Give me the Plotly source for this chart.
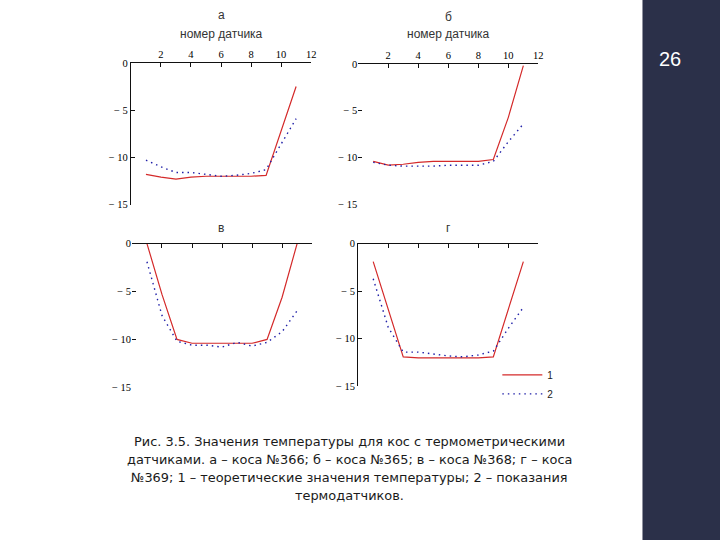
import plotly.graph_objects as go

W, H = 720, 540

sensors = list(range(1, 12))
# panel а (коса №366)
a_theory = [-11.8, -12.1, -12.3, -12.1, -12.0, -12.0, -12.0, -12.0, -11.9, -7.2, -2.5]
a_sensor = [-10.3, -11.0, -11.6, -11.6, -11.8, -12.0, -11.9, -11.7, -11.3, -8.6, -5.9]
# panel б (коса №365)
b_theory = [-10.4, -10.8, -10.7, -10.5, -10.4, -10.4, -10.4, -10.4, -10.2, -5.7, -0.2]
b_sensor = [-10.5, -10.8, -10.9, -10.9, -10.9, -10.8, -10.8, -10.8, -10.4, -8.3, -6.4]
# panel в (коса №368)
c_theory = [0.0, -5.3, -10.0, -10.4, -10.4, -10.4, -10.4, -10.4, -10.0, -5.6, 0.0]
c_sensor = [-1.9, -7.5, -10.2, -10.6, -10.6, -10.8, -10.3, -10.7, -10.3, -9.2, -7.0]
# panel г (коса №369)
d_theory = [-1.9, -6.9, -11.9, -12.0, -12.0, -12.0, -12.0, -12.0, -11.9, -6.9, -1.9]
d_sensor = [-3.7, -8.8, -11.4, -11.4, -11.6, -11.8, -11.9, -11.7, -11.3, -8.9, -6.7]

panel_titles = ["а", "б", "в", "г"]
x_title = "номер датчика"
legend_names = ["1", "2"]
x_ticks = [2, 4, 6, 8, 10, 12]
y_ticks = [0, -5, -10, -15]
y_ticktext = ["0", "− 5", "− 10", "− 15"]

caption_lines = [
    "Рис. 3.5. Значения температуры для кос с термометрическими",
    "датчиками. а – коса №366; б – коса №365; в – коса №368; г – коса",
    "№369; 1 – теоретические значения температуры; 2 – показания",
    "термодатчиков.",
]
page_number = "26"

RED = "#d42a2a"
BLUE = "#2020a8"
SIDEBAR = "#2b3049"


# the photographed page is shown slightly shifted/scaled; map wanted picture px -> figure px
def fx(p):
    return (p - 0.2) / 0.992


def fy(p):
    return (p - 4.1) / 0.981


def px_x(p):
    return fx(p) / W


def px_y(p):
    return 1 - fy(p) / H


# picture-pixel boxes of panels: (x0, x1, ytop, ybottom)
boxes = [
    (131, 311, 62, 204),
    (358, 538, 63, 204),
    (132, 312, 243, 387),
    (358, 538, 243, 386),
]
show_yline = [True, False, False, True]
show_xlabels = [True, True, False, False]

data = [(a_theory, a_sensor), (b_theory, b_sensor), (c_theory, c_sensor), (d_theory, d_sensor)]

fig = go.Figure()
layout = dict(
    width=W, height=H,
    margin=dict(l=0, r=0, t=0, b=0),
    paper_bgcolor="white", plot_bgcolor="white",
    showlegend=True,
    legend=dict(x=px_x(497), y=px_y(360), xanchor="left", yanchor="top",
                bgcolor="rgba(0,0,0,0)", font=dict(family="Liberation Sans", size=10, color="#222"),
                tracegroupgap=0, itemwidth=40),
)

tick_font = dict(family="Liberation Serif", size=10.5, color="#000")

for i, ((th, se), box) in enumerate(zip(data, boxes)):
    n = "" if i == 0 else str(i + 1)
    x0, x1, yt, yb = box
    fig.add_trace(go.Scatter(x=sensors, y=th, mode="lines", name=legend_names[0],
                             line=dict(color=RED, width=1.2), showlegend=(i == 3),
                             xaxis="x" + n, yaxis="y" + n))
    fig.add_trace(go.Scatter(x=sensors, y=se, mode="lines", name=legend_names[1],
                             line=dict(color=BLUE, width=1.4, dash="1.5px,4px"), showlegend=(i == 3),
                             xaxis="x" + n, yaxis="y" + n))
    layout["xaxis" + n] = dict(
        domain=[px_x(x0), px_x(x1)], range=[0, 12], anchor="y" + n, side="top",
        tickvals=x_ticks, showticklabels=show_xlabels[i], ticks="inside", ticklen=4,
        tickcolor="#111", showline=True, linecolor="#111", linewidth=1.2,
        showgrid=False, zeroline=False, tickfont=tick_font,
    )
    layout["yaxis" + n] = dict(
        domain=[px_y(yb), px_y(yt)], range=[-15, 0], anchor="x" + n,
        tickvals=y_ticks, ticktext=y_ticktext, ticks="inside", ticklen=4,
        tickcolor="#111", showline=show_yline[i], linecolor="#111", linewidth=1.2,
        showgrid=False, zeroline=False, tickfont=tick_font,
    )

fig.update_layout(**layout)

title_font = dict(family="Liberation Sans", size=12, color="#333")
title_pos = [(221, 14), (448, 16), (221, 227), (448, 227)]
for t, (px, py) in zip(panel_titles, title_pos):
    fig.add_annotation(text=t, x=px_x(px), y=px_y(py), xref="paper", yref="paper",
                       showarrow=False, font=title_font, xanchor="center", yanchor="middle")
for px in (221, 448):
    fig.add_annotation(text=x_title, x=px_x(px), y=px_y(33), xref="paper", yref="paper",
                       showarrow=False, font=title_font, xanchor="center", yanchor="middle")

cap_y = [441, 459, 477, 495]
for line, py in zip(caption_lines, cap_y):
    fig.add_annotation(text=line, x=px_x(349), y=px_y(py), xref="paper", yref="paper",
                       showarrow=False, xanchor="center", yanchor="middle",
                       font=dict(family="DejaVu Sans", size=12.9, color="#1a1a1a"))

# dark sidebar
fig.add_shape(type="rect", xref="paper", yref="paper", x0=px_x(642), x1=1.02, y0=-0.05, y1=1.05,
              fillcolor=SIDEBAR, line=dict(width=0), layer="below")
fig.add_annotation(text=page_number, x=px_x(669), y=px_y(58), xref="paper", yref="paper",
                   showarrow=False, xanchor="center", yanchor="middle",
                   font=dict(family="Liberation Sans", size=20, color="white"))

sidebar_x = round(fx(642))
fig.write_html(
    "out.html",
    config={"displayModeBar": False},
    post_script=(
        "document.body.style.margin='0';document.body.style.overflow='hidden';"
        "document.documentElement.style.background="
        f"'linear-gradient(to right, white {sidebar_x}px, {SIDEBAR} {sidebar_x}px)';"
        "document.body.style.background='transparent';"
    ),
)
